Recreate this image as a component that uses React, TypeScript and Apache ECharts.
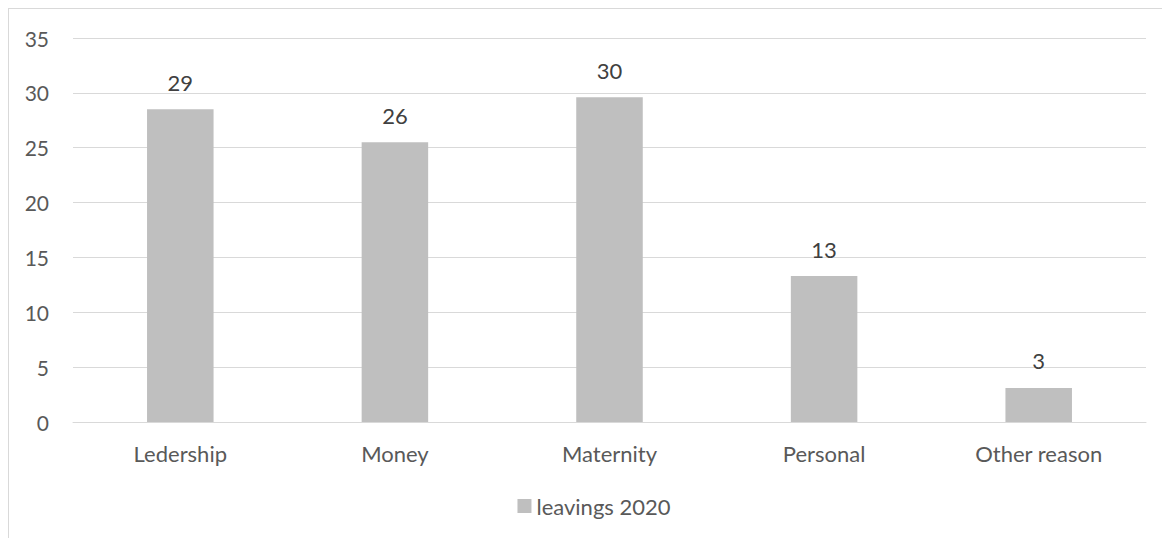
import React, { useEffect, useRef } from "react";
import * as echarts from "echarts";

const categories = ["Ledership", "Money", "Maternity", "Personal", "Other reason"];
const leavings2020 = [28.5, 25.5, 29.6, 13.3, 3.1];
const seriesName = "leavings 2020";
const yTicks = { min: 0, max: 35, interval: 5 };

const FONT = "Lato";
const TEXT = "#595959";

export default function App() {
  const ref = useRef<HTMLDivElement>(null);
  useEffect(() => {
    if (!ref.current) return;
    const chart = echarts.init(ref.current, undefined, { renderer: "svg" });
    chart.setOption({
      animation: false,
      backgroundColor: "#ffffff",
      textStyle: { fontFamily: FONT, color: TEXT },
      grid: { left: 64, top: 29, width: 1073, height: 384, containLabel: false },
      legend: {
        data: [seriesName],
        bottom: 17,
        left: "center",
        icon: "rect",
        itemWidth: 14,
        itemHeight: 14,
        itemGap: 6,
        textStyle: { fontFamily: FONT, fontSize: 22, color: TEXT },
      },
      xAxis: {
        type: "category",
        data: categories,
        axisLine: { show: true, lineStyle: { color: "#d9d9d9", width: 1 } },
        axisTick: { show: false },
        axisLabel: { fontFamily: FONT, fontSize: 22, color: TEXT, margin: 20 },
      },
      yAxis: {
        type: "value",
        min: yTicks.min,
        max: yTicks.max,
        interval: yTicks.interval,
        axisLine: { show: false },
        axisTick: { show: false },
        axisLabel: { fontFamily: FONT, fontSize: 21, color: TEXT, margin: 24 },
        splitLine: { lineStyle: { color: "#d9d9d9", width: 1 } },
      },
      series: [
        {
          name: seriesName,
          type: "bar",
          data: leavings2020,
          barWidth: "31%",
          itemStyle: { color: "#bfbfbf" },
          label: {
            show: true,
            position: "top",
            distance: 16,
            fontFamily: FONT,
            fontSize: 22,
            color: "#404040",
            formatter: (p: any) => String(Math.round(p.value)),
          },
        },
      ],
    });
    return () => chart.dispose();
  }, []);
  return (
    <div
      ref={ref}
      style={{ width: 1170, height: 530, border: "1px solid #d9d9d9", borderRight: "none", borderBottom: "none" }}
    />
  );
}
